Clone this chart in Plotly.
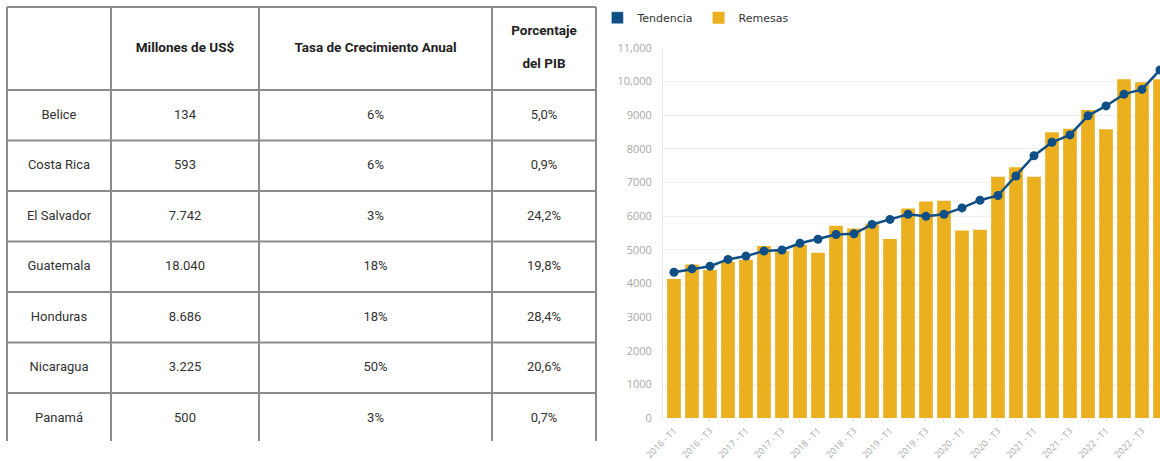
import plotly.graph_objects as go

# --- tabla ---
encabezados = ["", "Millones de US$", "Tasa de Crecimiento Anual", "Porcentaje<br>del PIB"]
paises = ["Belice", "Costa Rica", "El Salvador", "Guatemala", "Honduras", "Nicaragua", "Panamá"]
millones = ["134", "593", "7.742", "18.040", "8.686", "3.225", "500"]
tasa = ["6%", "6%", "3%", "18%", "18%", "50%", "3%"]
pib = ["5,0%", "0,9%", "24,2%", "19,8%", "28,4%", "20,6%", "0,7%"]

# --- grafico remesas ---
trimestres = [f"{a} - T{t}" for a in range(2016, 2023) for t in range(1, 5)]
remesas = [4130, 4560, 4400, 4640, 4700, 5110, 4960, 5150, 4910, 5710,
           5630, 5770, 5320, 6220, 6430, 6450, 5570, 5590, 7170, 7450,
           7170, 8490, 8590, 9150, 8580, 10060, 9970, 10060]
tendencia = [4330, 4430, 4510, 4710, 4810, 4960, 4990, 5190, 5310, 5450,
             5470, 5750, 5900, 6050, 5990, 6050, 6240, 6470, 6610, 7190,
             7790, 8190, 8410, 8980, 9270, 9620, 9760, 10340]
y_ticks = [0, 1000, 2000, 3000, 4000, 5000, 6000, 7000, 8000, 9000, 10000, 11000]
y_ticktext = ["0", "1000", "2000", "3000", "4000", "5000", "6000", "7000", "8000", "9000", "10,000", "11,000"]

AZUL = "#0f4f86"
ORO = "#ebb01f"
LINEA = "#8c8c8c"
W, H = 1160, 461
FUENTE_TABLA = "Liberation Sans Narrow, Arial Narrow, Roboto, sans-serif"

# geometria de la tabla (en pixeles de la figura)
col_x = [7, 111, 259, 492, 596]
top, header_h, row_h, bottom = 7, 83, 50.5, 441
row_y = [top + header_h + i * row_h for i in range(len(paises) + 1)]

fig = go.Figure()

# lineas de la tabla
line_style = dict(color=LINEA, width=2)
for y in [top] + row_y[:-1]:
    fig.add_shape(type="line", xref="x2", yref="y2", x0=col_x[0], x1=col_x[-1], y0=y, y1=y, line=line_style)
for x in col_x:
    fig.add_shape(type="line", xref="x2", yref="y2", x0=x, x1=x, y0=top, y1=bottom, line=line_style)

# texto de la tabla
centros_x = [(col_x[i] + col_x[i + 1]) / 2 for i in range(4)]
centros_y = [(row_y[i] + row_y[i + 1]) / 2 for i in range(len(paises))]
header_cy = top + header_h / 2
for cx, titulo in zip(centros_x, encabezados):
    lineas = titulo.split("<br>")
    paso = 33
    y0 = header_cy - paso * (len(lineas) - 1) / 2
    fig.add_trace(go.Scatter(
        x=[cx] * len(lineas), y=[y0 + k * paso for k in range(len(lineas))],
        text=[f"<b>{t}</b>" for t in lineas], mode="text",
        textfont=dict(family=FUENTE_TABLA, size=13.5, color="#222"),
        xaxis="x2", yaxis="y2", showlegend=False, hoverinfo="skip",
    ))
for cx, columna in zip(centros_x, [paises, millones, tasa, pib]):
    fig.add_trace(go.Scatter(
        x=[cx] * len(columna), y=centros_y, text=columna, mode="text",
        textfont=dict(family=FUENTE_TABLA, size=13, color="#333"),
        xaxis="x2", yaxis="y2", showlegend=False, hoverinfo="skip",
    ))

# grafico
fig.add_trace(go.Bar(
    x=[None], y=[None], name="Tendencia", marker_color=AZUL, legendgroup="t",
))
fig.add_trace(go.Scatter(
    x=trimestres, y=tendencia, name="Tendencia", mode="lines+markers",
    line=dict(color=AZUL, width=2.5), marker=dict(color=AZUL, size=9),
    legendgroup="t", showlegend=False,
))
fig.add_trace(go.Bar(
    x=trimestres, y=remesas, name="Remesas", marker=dict(color=ORO, line_width=0),
))

fig.update_layout(
    width=W, height=H,
    paper_bgcolor="white", plot_bgcolor="rgba(0,0,0,0)",
    margin=dict(l=0, r=0, t=0, b=0),
    bargap=0.24,
    font=dict(family="Open Sans, sans-serif", color="#444"),
    legend=dict(
        orientation="h", x=0.515, y=0.993, xanchor="left", yanchor="top",
        traceorder="normal", font=dict(family="DejaVu Sans, sans-serif", size=11, color="#333"),
        itemwidth=30, bgcolor="rgba(0,0,0,0)",
    ),
    xaxis=dict(
        type="category", domain=[663 / W, 1.0], range=[-0.61, 27.0],
        categoryorder="array", categoryarray=trimestres,
        tickvals=trimestres,
        ticktext=[t if i % 2 == 0 else "" for i, t in enumerate(trimestres)],
        tickangle=-45,
        tickfont=dict(size=9, color="#a8a8a8"),
        showgrid=False, showline=False, zeroline=False,
        ticks="outside", ticklen=3, tickcolor="#e4e4e4",
        automargin=False,
    ),
    yaxis=dict(
        domain=[1 - 418 / H, 1 - 47.7 / H], range=[0, 11000],
        tickvals=y_ticks, ticktext=y_ticktext,
        tickfont=dict(size=11, color="#a8a8a8"),
        showgrid=True, gridcolor="#f0f0f0", gridwidth=1,
        showline=True, linecolor="#e6e6e6", linewidth=1,
        zeroline=False, ticks="", ticklabelstandoff=8,
        automargin=False,
    ),
    xaxis2=dict(domain=[0, 0.53], range=[0, 0.53 * W], visible=False, anchor="y2", fixedrange=True),
    yaxis2=dict(domain=[0, 1], range=[H, 0], visible=False, anchor="x2", fixedrange=True),
)

# la pagina tiene margen por defecto en <body>; se quita para que la figura ocupe la ventana
fig.write_html(
    "out.html",
    config={"displayModeBar": False},
    post_script="document.body.style.margin='0px';",
)
